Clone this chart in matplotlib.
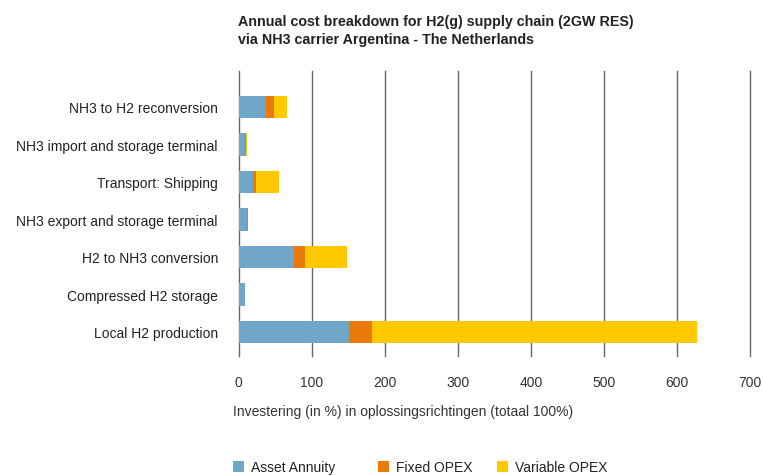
import matplotlib.pyplot as plt
import numpy as np

categories = [
    "Local H2 production",
    "Compressed H2 storage",
    "H2 to NH3 conversion",
    "NH3 export and storage terminal",
    "Transport: Shipping",
    "NH3 import and storage terminal",
    "NH3 to H2 reconversion",
]
asset_annuity = [151, 8, 75, 11, 20, 9, 37]
fixed_opex = [32, 0.5, 16, 1.5, 4, 1, 11]
variable_opex = [445, 0.5, 57, 0.5, 31, 1, 18]
xticks = [0, 100, 200, 300, 400, 500, 600, 700]

c_asset = "#6fa6ca"
c_fixed = "#ec7a08"
c_var = "#ffc800"
grid_c = "#666666"

plt.rcParams["font.family"] = ["Liberation Sans", "DejaVu Sans"]

fig = plt.figure(figsize=(7.63, 4.77), dpi=100)
ax = fig.add_axes([0.313, 0.252, 0.670, 0.597])

y = np.arange(len(categories))
a = np.array(asset_annuity)
f = np.array(fixed_opex)
v = np.array(variable_opex)
b1 = ax.barh(y, a, height=0.6, color=c_asset, label="Asset Annuity", zorder=3)
b2 = ax.barh(y, f, left=a, height=0.6, color=c_fixed, label="Fixed OPEX", zorder=3)
b3 = ax.barh(y, v, left=a + f, height=0.6, color=c_var, label="Variable OPEX", zorder=3)

ax.set_xlim(0, 700)
ax.set_ylim(-0.64, 6.96)
ax.set_xticks(xticks)
ax.set_yticks(y)
ax.set_yticklabels(categories, fontsize=10)
ax.tick_params(axis="x", length=0, pad=14, labelsize=10, labelcolor="#333333")
ax.tick_params(axis="y", length=0, pad=15, labelcolor="#222222")
for t in xticks:
    ax.axvline(t, color=grid_c, lw=1.0, zorder=1, clip_on=False)
for s in ax.spines.values():
    s.set_visible(False)

ax.set_xlabel("Investering (in %) in oplossingsrichtingen (totaal 100%)",
              fontsize=10, color="#333333")
ax.xaxis.set_label_coords(-0.012, -0.193)
ax.xaxis.label.set_horizontalalignment("left")
ax.xaxis.label.set_verticalalignment("center")

fig.text(0.312, 0.935, "Annual cost breakdown for H2(g) supply chain (2GW RES)\nvia NH3 carrier Argentina - The Netherlands",
         fontsize=10.3, fontweight="bold", color="#222222", va="center", ha="left", linespacing=1.45)

# legend entries placed one by one, as in the original (uneven spacing)
for handle, x0 in [(b1, 0.289), (b2, 0.479), (b3, 0.635)]:
    fig.legend([handle], [handle.get_label()], loc="center left",
               bbox_to_anchor=(x0, 0.018), frameon=False, fontsize=10,
               handlelength=0.8, handleheight=0.8, handletextpad=0.5,
               labelcolor="#222222")

fig.savefig("out.png", dpi=100, facecolor="white")
